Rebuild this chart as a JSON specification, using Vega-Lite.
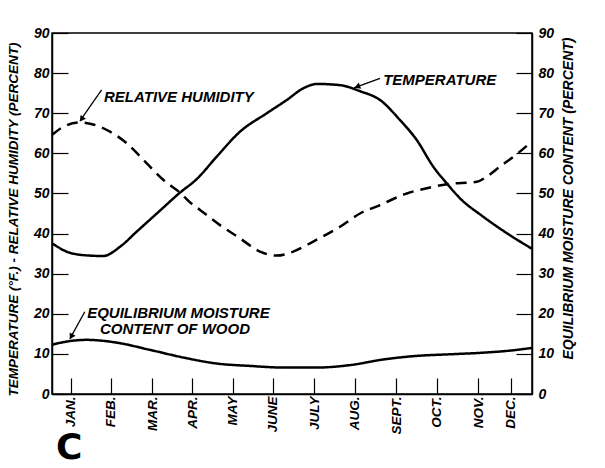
{
  "$schema": "https://vega.github.io/schema/vega-lite/v6.json",
  "width": 480,
  "height": 361,
  "autosize": {"type": "none"},
  "padding": {"left": 52, "top": 33, "right": 73, "bottom": 74},
  "background": "white",
  "config": {
    "view": {"stroke": "black", "strokeWidth": 1.5},
    "font": "Liberation Sans",
    "axis": {"domainColor": "black", "tickColor": "black", "labelColor": "black", "titleColor": "black", "domainWidth": 1.5, "tickWidth": 1.2, "grid": false}
  },
  "title": {"text": "C", "orient": "bottom", "anchor": "start", "frame": "group", "fontSize": 36, "fontWeight": "bold", "font": "DejaVu Sans", "color": "black", "offset": -3, "dx": 4},
  "datasets": {
    "curves": [
      {"series": "Temperature", "m": 0, "v": 37.6},
      {"series": "Temperature", "m": 0.45, "v": 35.2},
      {"series": "Temperature", "m": 0.95, "v": 34.5},
      {"series": "Temperature", "m": 1.28, "v": 34.4},
      {"series": "Temperature", "m": 1.7, "v": 36.7},
      {"series": "Temperature", "m": 2.12, "v": 40.5},
      {"series": "Temperature", "m": 2.62, "v": 45},
      {"series": "Temperature", "m": 3.2, "v": 50.2},
      {"series": "Temperature", "m": 3.62, "v": 53.6},
      {"series": "Temperature", "m": 4.12, "v": 59.2},
      {"series": "Temperature", "m": 4.7, "v": 65.4},
      {"series": "Temperature", "m": 5.37, "v": 70},
      {"series": "Temperature", "m": 5.87, "v": 73.3},
      {"series": "Temperature", "m": 6.28, "v": 76.2},
      {"series": "Temperature", "m": 6.62, "v": 77.3},
      {"series": "Temperature", "m": 7.2, "v": 77},
      {"series": "Temperature", "m": 7.7, "v": 75.5},
      {"series": "Temperature", "m": 8.2, "v": 73.3},
      {"series": "Temperature", "m": 8.7, "v": 68.3},
      {"series": "Temperature", "m": 9.12, "v": 63.3},
      {"series": "Temperature", "m": 9.53, "v": 56.7},
      {"series": "Temperature", "m": 9.87, "v": 52.5},
      {"series": "Temperature", "m": 10.2, "v": 48.8},
      {"series": "Temperature", "m": 10.78, "v": 44.2},
      {"series": "Temperature", "m": 11.37, "v": 40.1},
      {"series": "Temperature", "m": 12, "v": 36.2},
      {"series": "Relative humidity", "m": 0, "v": 64.6},
      {"series": "Relative humidity", "m": 0.28, "v": 66.6},
      {"series": "Relative humidity", "m": 0.7, "v": 67.7},
      {"series": "Relative humidity", "m": 1.03, "v": 67.2},
      {"series": "Relative humidity", "m": 1.45, "v": 65.4},
      {"series": "Relative humidity", "m": 1.87, "v": 62.5},
      {"series": "Relative humidity", "m": 2.37, "v": 57.5},
      {"series": "Relative humidity", "m": 2.78, "v": 53.4},
      {"series": "Relative humidity", "m": 3.2, "v": 50.2},
      {"series": "Relative humidity", "m": 3.53, "v": 47.1},
      {"series": "Relative humidity", "m": 3.7, "v": 45.9},
      {"series": "Relative humidity", "m": 4.2, "v": 42.1},
      {"series": "Relative humidity", "m": 4.7, "v": 38.8},
      {"series": "Relative humidity", "m": 5.2, "v": 35.5},
      {"series": "Relative humidity", "m": 5.62, "v": 34.5},
      {"series": "Relative humidity", "m": 6.03, "v": 35.5},
      {"series": "Relative humidity", "m": 6.53, "v": 38},
      {"series": "Relative humidity", "m": 7.2, "v": 41.7},
      {"series": "Relative humidity", "m": 7.7, "v": 45},
      {"series": "Relative humidity", "m": 8.2, "v": 47.1},
      {"series": "Relative humidity", "m": 8.87, "v": 50},
      {"series": "Relative humidity", "m": 9.37, "v": 51.3},
      {"series": "Relative humidity", "m": 9.87, "v": 52.3},
      {"series": "Relative humidity", "m": 10.62, "v": 52.9},
      {"series": "Relative humidity", "m": 10.87, "v": 54.2},
      {"series": "Relative humidity", "m": 11.2, "v": 56.7},
      {"series": "Relative humidity", "m": 11.62, "v": 59.8},
      {"series": "Relative humidity", "m": 12, "v": 63},
      {"series": "EMC", "m": 0, "v": 12.3},
      {"series": "EMC", "m": 0.45, "v": 13.2},
      {"series": "EMC", "m": 0.87, "v": 13.5},
      {"series": "EMC", "m": 1.62, "v": 12.8},
      {"series": "EMC", "m": 2.45, "v": 11},
      {"series": "EMC", "m": 3.28, "v": 9.1},
      {"series": "EMC", "m": 4.12, "v": 7.6},
      {"series": "EMC", "m": 4.95, "v": 7},
      {"series": "EMC", "m": 5.78, "v": 6.6},
      {"series": "EMC", "m": 6.62, "v": 6.6},
      {"series": "EMC", "m": 7.45, "v": 7.2},
      {"series": "EMC", "m": 8.28, "v": 8.6},
      {"series": "EMC", "m": 9.12, "v": 9.5},
      {"series": "EMC", "m": 9.95, "v": 9.9},
      {"series": "EMC", "m": 10.78, "v": 10.3},
      {"series": "EMC", "m": 11.62, "v": 11},
      {"series": "EMC", "m": 12, "v": 11.5}
    ],
    "labels": [
      {"text": "RELATIVE  HUMIDITY", "m": 1.3, "v": 74.1},
      {"text": "TEMPERATURE", "m": 8.28, "v": 78.4},
      {"text": "EQUILIBRIUM  MOISTURE", "m": 0.88, "v": 20.1},
      {"text": "CONTENT  OF  WOOD", "m": 1.2, "v": 16.1}
    ],
    "arrows": [
      {"id": "rh", "m": 1.24, "v": 75.8, "m2": 0.7, "v2": 68.1, "hm": 0.74, "hv": 68.5},
      {"id": "temp", "m": 8.2, "v": 78.7, "m2": 7.55, "v2": 76.3, "hm": 7.63, "hv": 76.6},
      {"id": "emc", "m": 0.82, "v": 20.5, "m2": 0.45, "v2": 13.8, "hm": 0.48, "hv": 14.3}
    ]
  },
  "layer": [
    {
      "data": {"name": "curves"},
      "mark": {"type": "line", "interpolate": "monotone", "color": "black", "strokeWidth": 2.5},
      "encoding": {
        "x": {
          "field": "m", "type": "quantitative",
          "scale": {"domain": [0, 12], "nice": false, "zero": false},
          "axis": {
            "values": [0.47, 1.47, 2.5, 3.5, 4.52, 5.52, 6.55, 7.57, 8.6, 9.62, 10.65, 11.47],
            "labelExpr": "['JAN.','FEB.','MAR.','APR.','MAY','JUNE','JULY','AUG.','SEPT.','OCT.','NOV.','DEC.'][round(datum.value - 0.5)]",
            "labelAngle": 270, "labelAlign": "right", "labelBaseline": "middle",
            "labelFontSize": 13.5, "labelFontStyle": "italic", "labelFontWeight": "bold",
            "tickSize": -16, "labelPadding": 18, "title": null, "labelOverlap": false
          }
        },
        "y": {
          "field": "v", "type": "quantitative",
          "scale": {"domain": [0, 90], "nice": false},
          "axis": {
            "values": [0, 10, 20, 30, 40, 50, 60, 70, 80, 90],
            "tickSize": -16, "labelPadding": 19,
            "labelFontSize": 14, "labelFontStyle": "italic", "labelFontWeight": "bold",
            "title": "TEMPERATURE (°F.) - RELATIVE HUMIDITY (PERCENT)",
            "titleFontSize": 13.5, "titleFontStyle": "italic", "titleFontWeight": "bold",
            "titleAngle": 270, "titleAlign": "center", "titleBaseline": "middle",
            "titleX": -39, "titleY": 186
          }
        },
        "detail": {"field": "series"},
        "strokeDash": {
          "field": "series", "type": "nominal",
          "scale": {"domain": ["Temperature", "Relative humidity", "EMC"], "range": [[1, 0], [11, 7], [1, 0]]},
          "legend": null
        }
      }
    },
    {
      "data": {"name": "labels"},
      "mark": {"type": "text", "align": "left", "baseline": "middle", "fontSize": 15, "fontStyle": "italic", "fontWeight": "bold", "color": "black"},
      "encoding": {
        "x": {"field": "m", "type": "quantitative"},
        "y": {
          "field": "v", "type": "quantitative",
          "axis": {
            "orient": "right",
            "values": [0, 10, 20, 30, 40, 50, 60, 70, 80, 90],
            "tickSize": -16, "labelPadding": 22,
            "labelFontSize": 14, "labelFontStyle": "italic", "labelFontWeight": "bold",
            "title": "EQUILIBRIUM MOISTURE CONTENT (PERCENT)",
            "titleFontSize": 14, "titleFontStyle": "italic", "titleFontWeight": "bold",
            "titleAngle": 270, "titleAlign": "center", "titleBaseline": "middle",
            "titleX": 36, "titleY": 165
          }
        },
        "text": {"field": "text"}
      }
    },
    {
      "data": {"name": "arrows"},
      "mark": {"type": "rule", "color": "black", "strokeWidth": 1.3},
      "encoding": {
        "x": {"field": "m", "type": "quantitative"},
        "y": {"field": "v", "type": "quantitative", "axis": null},
        "x2": {"field": "m2"},
        "y2": {"field": "v2"}
      }
    },
    {
      "data": {"name": "arrows"},
      "transform": [{"filter": "datum.id == 'rh'"}],
      "mark": {"type": "point", "shape": "triangle-up", "angle": 215, "filled": true, "color": "black", "size": 45, "opacity": 1},
      "encoding": {
        "x": {"field": "hm", "type": "quantitative"},
        "y": {"field": "hv", "type": "quantitative", "axis": null}
      }
    },
    {
      "data": {"name": "arrows"},
      "transform": [{"filter": "datum.id == 'temp'"}],
      "mark": {"type": "point", "shape": "triangle-up", "angle": 249, "filled": true, "color": "black", "size": 45, "opacity": 1},
      "encoding": {
        "x": {"field": "hm", "type": "quantitative"},
        "y": {"field": "hv", "type": "quantitative", "axis": null}
      }
    },
    {
      "data": {"name": "arrows"},
      "transform": [{"filter": "datum.id == 'emc'"}],
      "mark": {"type": "point", "shape": "triangle-up", "angle": 209, "filled": true, "color": "black", "size": 45, "opacity": 1},
      "encoding": {
        "x": {"field": "hm", "type": "quantitative"},
        "y": {"field": "hv", "type": "quantitative", "axis": null}
      }
    }
  ],
  "resolve": {"axis": {"y": "independent"}}
}
